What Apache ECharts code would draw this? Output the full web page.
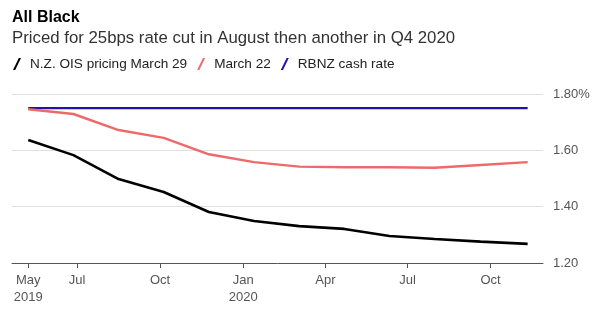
<!DOCTYPE html>
<html>
<head>
<meta charset="utf-8">
<script src="https://cdn.jsdelivr.net/npm/echarts@6/dist/echarts.min.js"></script>
<style>
  html, body { margin: 0; padding: 0; background: #fff; }
  #chart { width: 600px; height: 322px; }
</style>
</head>
<body>
<div id="chart"></div>
<script>
// Pricing dates along the curve (roughly every 50 days, May 2019 to Nov 2020)
const pointDates = [
  '2019-05-08', '2019-06-27', '2019-08-16', '2019-10-05', '2019-11-24', '2020-01-13',
  '2020-03-03', '2020-04-22', '2020-06-11', '2020-07-31', '2020-09-20', '2020-11-11'
];

// Implied rates, %
const oisMarch29 = [1.637, 1.583, 1.498, 1.452, 1.381, 1.349, 1.331, 1.321, 1.296, 1.285, 1.276, 1.268];
const oisMarch22 = [1.746, 1.729, 1.672, 1.644, 1.586, 1.558, 1.542, 1.540, 1.540, 1.538, 1.548, 1.558];
const cashRate   = [1.75, 1.75, 1.75, 1.75, 1.75, 1.75, 1.75, 1.75, 1.75, 1.75, 1.75, 1.75];

const seriesNames = ['N.Z. OIS pricing March 29', 'March 22', 'RBNZ cash rate'];

// Axis ticks
const tickDates  = ['2019-05-08', '2019-07-01', '2019-10-01', '2020-01-01', '2020-04-01', '2020-07-01', '2020-10-01'];
const tickLabels = ['May\n2019', 'Jul', 'Oct', 'Jan\n2020', 'Apr', 'Jul', 'Oct'];
const yTicks = [1.2, 1.4, 1.6, 1.8];

const ts = d => Date.parse(d + 'T00:00:00Z');
const tickTs = tickDates.map(ts);
const pair = vals => pointDates.map((d, i) => [ts(d), vals[i]]);

const slash = 'path://M0,12L2.2,12L8,0L5.8,0Z';
const font = '"Liberation Sans", Arial, sans-serif';

const chart = echarts.init(document.getElementById('chart'));
chart.setOption({
  backgroundColor: '#fff',
  animation: false,
  textStyle: { fontFamily: font },
  title: [
    { text: 'All Black', left: 12, top: 10, padding: 0,
      textStyle: { fontFamily: font, fontSize: 16, fontWeight: 'bold', color: '#000' } },
    { text: 'Priced for 25bps rate cut in August then another in Q4 2020', left: 12, top: 30, padding: 0,
      textStyle: { fontFamily: font, fontSize: 16.8, fontWeight: 'normal', color: '#333' } }
  ],
  legend: {
    left: 13, top: 57, padding: 0,
    itemWidth: 8, itemHeight: 12, itemGap: 10,
    textStyle: { fontFamily: font, fontSize: 13.6, color: '#222', padding: [0, 0, 0, 4] },
    data: seriesNames.map(n => ({ name: n, icon: slash }))
  },
  grid: { left: 12, right: 57, top: 94, bottom: 59, containLabel: false },
  xAxis: {
    type: 'value',
    min: ts('2019-04-20'),
    max: ts('2020-11-28'),
    splitLine: { show: false },
    axisLine: { show: true, lineStyle: { color: '#555', width: 1 } },
    axisTick: { show: true, customValues: tickTs, length: 5, lineStyle: { color: '#555' } },
    axisLabel: {
      customValues: tickTs,
      margin: 9,
      fontFamily: font, fontSize: 13, color: '#555', lineHeight: 17,
      formatter: v => {
        const i = tickTs.indexOf(v);
        return i >= 0 ? tickLabels[i] : '';
      }
    }
  },
  yAxis: {
    type: 'value',
    position: 'right',
    min: 1.2, max: 1.8, interval: 0.2,
    axisLine: { show: false },
    axisTick: { show: false },
    splitLine: { show: true, lineStyle: { color: '#e0e0e0', width: 1 } },
    axisLabel: {
      margin: 10,
      fontFamily: font, fontSize: 13, color: '#555',
      formatter: v => {
        const t = yTicks.find(y => Math.abs(y - v) < 1e-6);
        if (t === undefined) return '';
        return t === 1.8 ? t.toFixed(2) + '%' : t.toFixed(2);
      }
    }
  },
  series: [
    { name: seriesNames[0], type: 'line', data: pair(oisMarch29), symbol: 'none',
      color: '#000', lineStyle: { color: '#000', width: 2.6 }, z: 4 },
    { name: seriesNames[1], type: 'line', data: pair(oisMarch22), symbol: 'none',
      color: '#ee6a6a', lineStyle: { color: '#ee6a6a', width: 2.4 }, z: 3 },
    { name: seriesNames[2], type: 'line', data: pair(cashRate), symbol: 'none',
      color: '#2211b0', lineStyle: { color: '#2211b0', width: 2.4 }, z: 2 }
  ]
});
</script>
</body>
</html>
